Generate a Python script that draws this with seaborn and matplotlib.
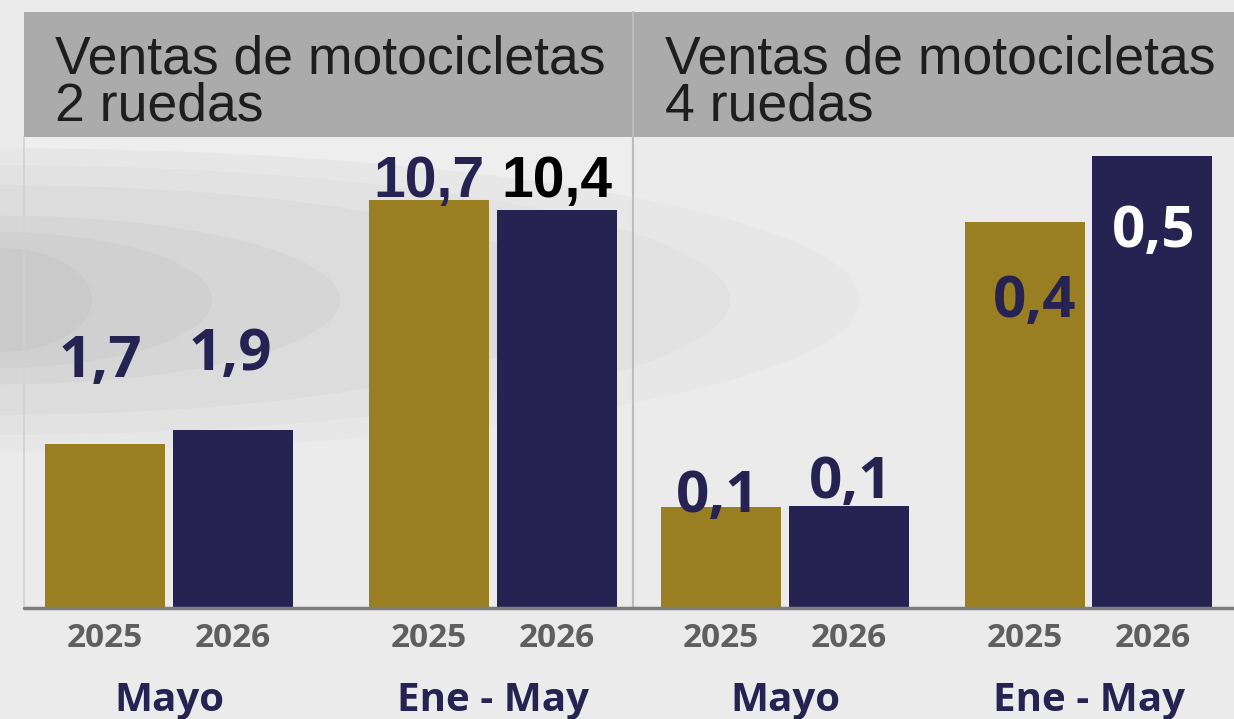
import numpy as np
import pandas as pd
import matplotlib
matplotlib.use("Agg")
import matplotlib.pyplot as plt
from matplotlib.patches import Ellipse
from matplotlib.lines import Line2D
import seaborn as sns

# ---------------- data ----------------
periodos = ["Mayo", "Ene - May"]
anios = ["2025", "2026"]
titulo_izq = "Ventas de motocicletas\n2 ruedas"
titulo_der = "Ventas de motocicletas\n4 ruedas"

# values printed on the bars (millones de unidades)
valores_2r = {"2025": [1.7, 10.7], "2026": [1.9, 10.4]}
valores_4r = {"2025": [0.1, 0.4], "2026": [0.1, 0.5]}
# drawn bar heights (% of panel height; the
# original chart is not drawn to scale)
altura_2r = {"2025": [34.7, 86.6], "2026": [37.7, 84.5]}
altura_4r = {"2025": [21.3, 81.9], "2026": [21.5, 96.0]}

GOLD = "#9a7f22"
NAVY = "#262352"
W, H = 1234, 719

sns.set_theme(style="white")
plt.rcParams["font.family"] = ["Open Sans", "DejaVu Sans"]


def fmt(v):
    return f"{v:.1f}".replace(".", ",")


def build_df(vals, alts):
    rows = []
    for a in anios:
        for p, v, h in zip(periodos, vals[a], alts[a]):
            rows.append({"periodo": p, "anio": a, "valor": v, "altura": h})
    return pd.DataFrame(rows)


df_l = build_df(valores_2r, altura_2r)
df_r = build_df(valores_4r, altura_4r)

fig = plt.figure(figsize=(W / 100, H / 100), dpi=100)
fig.patch.set_facecolor("#ebebeb")


def rect(x0, y0, x1, y1):
    return [x0 / W, 1 - y1 / H, (x1 - x0) / W, (y1 - y0) / H]


# background decoration (concentric grey ellipses)
bg = fig.add_axes([0, 0, 1, 1], zorder=0)
bg.set_xlim(0, W)
bg.set_ylim(H, 0)
bg.axis("off")
bg.add_patch(plt.Rectangle((24, 137), 608, 120, color="#eeeeee", lw=0))
rings = [(860, "#e7e7e7"), (730, "#e2e2e2"), (575, "#dcdcdc"),
         (340, "#d6d6d6"), (212, "#d0d0d0"), (92, "#cacaca")]
for a, c in rings:
    b = 40 + a * 0.13
    bg.add_patch(Ellipse((0, 300), 2 * a, 2 * b, color=c, lw=0))
bg.plot([24, 24], [137, 607], color="#d0d0d0", lw=1.2)
bg.plot([633, 633], [12, 607], color="#bcbcbc", lw=1.5)

# panels: (frame in px, data, width, xlim, label styles)
panels = [
    dict(r=(24, 137, 632, 607), df=df_l, width=0.79, xlim=(-0.448, 1.429),
         head=(24, 12, 632, 137), title=titulo_izq,
         styles=[  # (dx px, dy px above top, color, family)
             (-5, 82, NAVY, "Open Sans"), (-3, 75, NAVY, "Open Sans"),
             (0, 18, NAVY, "Liberation Sans"), (0, 28, "#000000", "Liberation Sans")]),
    dict(r=(634, 137, 1234, 607), df=df_r, width=0.84, xlim=(-0.4975, 1.479),
         head=(634, 12, 1234, 137), title=titulo_der,
         styles=[
             (-4, 10, NAVY, "Open Sans"), (2, 23, NAVY, "Open Sans"),
             (10, -80, NAVY, "Open Sans"), (1, -76, "#ffffff", "Open Sans")]),
]

for P in panels:
    ax = fig.add_axes(rect(*P["r"]), zorder=2)
    ax.patch.set_alpha(0)
    sns.barplot(data=P["df"], x="periodo", y="altura", hue="anio",
                order=periodos, hue_order=anios, palette=[GOLD, NAVY],
                width=P["width"], gap=0.06, saturation=1, legend=False,
                errorbar=None, linewidth=0, ax=ax)
    ax.set_ylim(0, 100)
    ax.set_xlim(*P["xlim"])
    ax.set_xlabel("")
    ax.set_ylabel("")
    ax.set_yticks([])
    for s in ["top", "right", "left", "bottom"]:
        ax.spines[s].set_visible(False)

    bars = sorted([p for p in ax.patches if p.get_width() > 0],
                  key=lambda p: p.get_x())
    centers = [p.get_x() + p.get_width() / 2 for p in bars]
    df = P["df"]
    # order of sorted bars: Mayo-2025, Mayo-2026, Ene-2025, Ene-2026
    order = [(pe, a) for pe in periodos for a in anios]
    ax.set_xticks(centers)
    ax.set_xticklabels([a for _, a in order])
    ax.tick_params(axis="x", length=0, pad=11, labelsize=24,
                   labelcolor="#5f5f5f")
    for t in ax.get_xticklabels():
        t.set_fontweight("bold")
    for i, pe in enumerate(periodos):
        gx = (centers[2 * i] + centers[2 * i + 1]) / 2
        ax.text(gx, -94 / 470, pe, transform=ax.get_xaxis_transform(),
                ha="center", va="center", fontsize=29, fontweight="bold",
                color=NAVY)
    for bar, (pe, a), st in zip(bars, order, P["styles"]):
        v = df[(df.periodo == pe) & (df.anio == a)].valor.iloc[0]
        dx, dy, col, fam = st
        ax.annotate(fmt(v), (bar.get_x() + bar.get_width() / 2, bar.get_height()),
                    xytext=(dx, dy), textcoords="offset pixels",
                    ha="center", va="center",
                    fontsize=41 if fam == "Liberation Sans" else 42,
                    fontweight="bold", color=col, family=[fam, "DejaVu Sans"],
                    zorder=5)

    # header
    hx = fig.add_axes(rect(*P["head"]), zorder=3)
    hx.set_facecolor("#ababab")
    hx.set_xticks([])
    hx.set_yticks([])
    for s in hx.spines.values():
        s.set_visible(False)
    hx.text(31 / (P["head"][2] - P["head"][0]), 0.43, P["title"],
            transform=hx.transAxes, ha="left", va="center", fontsize=38.5,
            color="#1e1e1e", family=["Liberation Sans", "DejaVu Sans"],
            linespacing=0.93)

# base line
fig.add_artist(Line2D([24 / W, 1], [1 - 607.5 / H, 1 - 607.5 / H],
                      color="#7d7d7d", lw=2.5, zorder=10))

fig.savefig("out.png", dpi=100, facecolor=fig.get_facecolor())
